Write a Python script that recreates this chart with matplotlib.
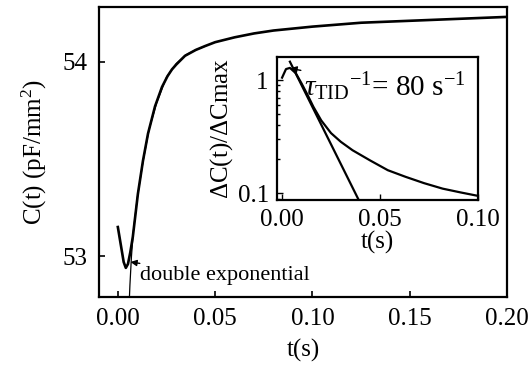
import numpy as np
import matplotlib
matplotlib.use("Agg")
import matplotlib.pyplot as plt

plt.rcParams['font.family'] = ['Liberation Serif', 'DejaVu Serif']
plt.rcParams['mathtext.fontset'] = 'custom'
plt.rcParams['mathtext.rm'] = 'Liberation Serif'
plt.rcParams['mathtext.it'] = 'Liberation Serif:italic'

# capacitance transient (main panel)
t_main = [0.0, 0.0015, 0.0030, 0.0041, 0.0052, 0.0064, 0.0077, 0.0090, 0.0103,
          0.0129, 0.0155, 0.0191, 0.0227, 0.0255, 0.0278, 0.030, 0.0345,
          0.040, 0.0448, 0.050, 0.060, 0.070, 0.080, 0.100, 0.125, 0.150,
          0.175, 0.200]
c_main = [53.15, 53.06, 52.97, 52.94, 52.96, 53.02, 53.10, 53.21, 53.32,
          53.49, 53.63, 53.77, 53.87, 53.925, 53.96, 53.985, 54.03,
          54.06, 54.08, 54.10, 54.125, 54.145, 54.16, 54.18, 54.20, 54.21,
          54.22, 54.23]

# double exponential fit
t_fit = [0.0056, 0.0062, 0.0070, 0.0080, 0.010, 0.013, 0.016, 0.020,
         0.025, 0.030, 0.035, 0.040, 0.045]
c_fit = [52.70, 52.85, 53.00, 53.13, 53.30, 53.49, 53.65, 53.79,
         53.92, 53.99, 54.035, 54.06, 54.08]

# normalised transient (inset, log scale)
t_ins = [0.000, 0.002, 0.004, 0.007, 0.010, 0.013, 0.016, 0.020, 0.025,
         0.030, 0.036, 0.045, 0.054, 0.063, 0.0725, 0.082, 0.091, 0.100]
dc_ins = [1.05, 1.25, 1.28, 1.15, 0.93, 0.74, 0.58, 0.44, 0.34,
          0.285, 0.24, 0.195, 0.16, 0.14, 0.123, 0.11, 0.102, 0.095]

# single exponential, rate from the label
tau_inv = 80.0
amp = 2.0
t_exp = np.array([0.004, 0.045])

fig = plt.figure(figsize=(5.31, 3.77), dpi=100)
ax = fig.add_axes([0.186, 0.212, 0.769, 0.769])
ax.plot(t_main, c_main, color='black', lw=1.9)
ax.plot(t_fit, c_fit, color='black', lw=0.9)
ax.set_xlim(-0.0098, 0.2)
ax.set_ylim(52.79, 54.28)
ax.set_xticks([0.0, 0.05, 0.10, 0.15, 0.20])
ax.set_xticklabels(['0.00', '0.05', '0.10', '0.15', '0.20'])
ax.set_yticks([53, 54])
ax.tick_params(direction='in', labelsize=18, length=4, width=1.2, pad=8)
for s in ax.spines.values():
    s.set_linewidth(1.6)
ax.set_xlabel('t(s)', fontsize=18, labelpad=6)
ax.set_ylabel('C(t) (pF/mm$^2$)', fontsize=18, labelpad=10)
ax.annotate('double exponential', xy=(0.0065, 52.97), xytext=(0.0115, 52.90),
            fontsize=16, va='center', ha='left',
            arrowprops=dict(arrowstyle='-|>', color='black', lw=1.0,
                            mutation_scale=9, shrinkA=0, shrinkB=0))

ins = fig.add_axes([0.522, 0.469, 0.378, 0.380])
ins.plot(t_ins, dc_ins, color='black', lw=1.6)
ins.plot(t_exp, amp * np.exp(-tau_inv * t_exp), color='black', lw=1.6)
ins.set_yscale('log')
ins.set_xlim(-0.0025, 0.1)
ins.set_ylim(0.087, 1.6)
ins.set_xticks([0.0, 0.05, 0.10])
ins.set_xticklabels(['0.00', '0.05', '0.10'])
ins.set_yticks([0.1, 1])
ins.set_yticklabels(['0.1', '1'])
ins.tick_params(which='both', direction='in', labelsize=18, width=1.0, pad=6)
ins.tick_params(which='major', length=4)
ins.tick_params(which='minor', length=2.5)
for s in ins.spines.values():
    s.set_linewidth(1.6)
ins.set_xlabel('t(s)', fontsize=18, labelpad=0)
ins.set_ylabel(r'$\Delta$C(t)/$\Delta$Cmax', fontsize=18, labelpad=2)
ins.annotate(r'$\tau_{\rm TID}$$^{-1}$= 80 s$^{-1}$', xy=(0.004, 1.27),
             xytext=(0.011, 0.88), fontsize=21, va='center', ha='left',
             arrowprops=dict(arrowstyle='-|>', color='black', lw=1.0,
                             mutation_scale=10, shrinkA=0, shrinkB=0))

fig.savefig('out.png', dpi=100)
